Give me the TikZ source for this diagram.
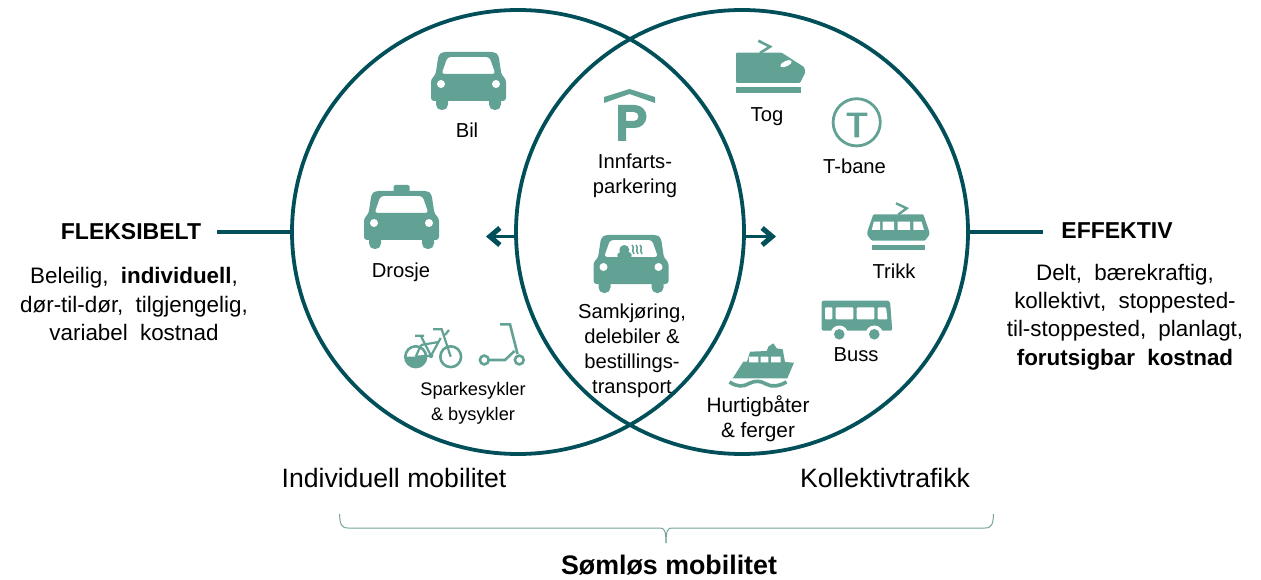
\documentclass[tikz,border=0pt]{standalone}
\usepackage{fontspec}
\setmainfont{Liberation Sans}
\usetikzlibrary{arrows.meta,shapes.geometric}
\definecolor{ringc}{HTML}{004F59}
\definecolor{iconc}{HTML}{62A295}
\definecolor{bracec}{HTML}{76A49C}
\newcommand{\ws}{\hspace{0.27em}}
\newcommand{\carbody}{%
  \fill[iconc,even odd rule,rounded corners=3pt]
    (-26,0) -- (26,0) -- (30,3) -- (33,23) -- (37.5,27) -- (37.5,49) -- (-37.5,49) -- (-37.5,27) -- (-33,23) -- (-30,3) -- cycle
    (-21,5) -- (21,5) -- (27,22) -- (-27,22) -- cycle;
  \fill[iconc,rounded corners=5.5pt] (-32.5,42) rectangle (-20.5,58) (20.5,42) rectangle (32.5,58);
  \fill[white] (-27.5,32) circle[radius=4] (27.5,32) circle[radius=4];}
\tikzset{
  ring/.style={draw=ringc,line width=3.8pt,ellipse,minimum width=452pt,minimum height=444pt,inner sep=0pt},
  stubline/.style={draw=ringc,line width=3.8pt},
  arrowline/.style={draw=ringc,line width=3.8pt,-{Straight Barb[length=10pt,width=17pt,line width=5pt]}},
  lab/.style={font=\fontsize{20.2}{25}\selectfont,align=center,inner sep=0pt,text=black},
  para/.style={font=\fontsize{22.4}{28.3}\selectfont,align=center,inner sep=0pt,text=black},
  head/.style={font=\fontsize{23}{26}\selectfont\bfseries,inner sep=0pt,anchor=base,text=black},
  big/.style={font=\fontsize{26.6}{30}\selectfont,inner sep=0pt,anchor=base,text=black},
}
\begin{document}
\begin{tikzpicture}[x=1pt,y=-1pt]
\useasboundingbox (0,0) rectangle (1261,580);
% rings
\node[ring] (L) at (518,232) {};
\node[ring] (R) at (742,232) {};
% stub lines
\coordinate (flex) at (217,232);
\coordinate (eff) at (1043,232);
\draw[stubline] (flex) -- (L.west);
\draw[stubline] (eff) -- (R.east);
% arrows
\coordinate (Lw) at (516,236.5);
\coordinate (Lt) at (486,236.5);
\coordinate (Rw) at (743,236.5);
\coordinate (Rt) at (776,236.5);
\draw[arrowline] (Lw) -- (Lt);
\draw[arrowline] (Rw) -- (Rt);
% cars
\begin{scope}[shift={(468.5,52)}]\carbody\end{scope}
\begin{scope}[shift={(401.5,191)}]\carbody
  \fill[iconc,rounded corners=1.5pt] (-8,-6) rectangle (8,1);\end{scope}
\begin{scope}[shift={(631,235)}]\carbody
  \fill[iconc] (-6.7,15) circle[radius=5];
  \fill[iconc,rounded corners=2pt] (-14,22.5) -- (-13,17) -- (0,17) -- (1,22.5) -- cycle;
  \draw[iconc,line width=1.5pt] (1,10) .. controls (4,13) and (0,15) .. (3,19)
     (5,10) .. controls (8,13) and (4,15) .. (7,19)
     (9,10) .. controls (12,13) and (8,15) .. (11,19);
\end{scope}
% parking
\fill[iconc] (604,97) -- (629.5,89) -- (655,97) -- (655,103) -- (629.5,94) -- (604,103) -- cycle;
\fill[iconc,even odd rule] (618,105) -- (635,105) arc[start angle=-90,end angle=90,radius=11.5] -- (626,128) -- (626,141) -- (618,141) -- cycle
  (626,112) -- (626,121) -- (634,121) arc[start angle=90,end angle=-90,radius=4.5] -- cycle;
% train
\fill[iconc,rounded corners=1pt] (736,52.7) -- (781.7,52.7) -- (804,67) -- (805.5,72) -- (800,83) -- (736,83) -- cycle;
\fill[iconc] (736,87.3) rectangle (800.7,93.3);
\draw[iconc,line width=2.6pt] (758.3,40.7) -- (770,46.7) -- (760,53);
\fill[white,rotate around={25:(786,63.7)}] (786,63.7) ellipse[x radius=6.3,y radius=2.6];
% T-bane
\draw[iconc,line width=2.8pt] (856.7,122.3) circle[radius=23.6];
\fill[iconc] (846.7,112.7) rectangle (867.3,116) (854.4,112.7) rectangle (859.2,137.3);
% tram
\fill[iconc,rounded corners=1pt] (873.3,214.3) -- (923.3,214.3) -- (929.3,231.7) -- (929.3,235) -- (925,240.7) -- (871.7,240.7) -- (867.3,235) -- (867.3,231.7) -- cycle;
\fill[white] (873.8,221.7) -- (880,221.7) -- (880,230) -- (871.8,230) -- cycle
  (882.7,221.7) rectangle (894,230) (897.7,221.7) rectangle (910,230)
  (913.3,221.7) -- (921.5,221.7) -- (924,230) -- (913.3,230) -- cycle;
\fill[iconc] (871.7,245) rectangle (925,250);
\draw[iconc,line width=2.4pt] (896,203.3) -- (906.7,208.3) -- (898.3,214.5);
% bus
\fill[iconc,rounded corners=2pt] (821.7,300.7) -- (890,300.7) -- (892.3,330.7) -- (821.7,330.7) -- cycle;
\fill[white,rounded corners=1pt] (825,307.3) rectangle (832.3,319.3) (835.7,307.3) rectangle (853.3,319.3)
  (856.7,307.3) rectangle (874.3,319.3) (877.7,307.3) -- (886,307.3) -- (887.5,319.3) -- (877.7,319.3) -- cycle;
\fill[white] (839.3,334.3) circle[radius=8.8] (874.3,334.3) circle[radius=8.8];
\fill[iconc] (839.3,334.3) circle[radius=5.3] (874.3,334.3) circle[radius=5.3];
% ferry
\fill[iconc] (750,351.7) -- (766.7,351) -- (768.3,346.7) -- (773.3,343.3) -- (776.7,348.3) -- (782.7,349.3) -- (785,362) -- (794,362.7) -- (787.3,378.3) -- (732.7,378.3) -- (743.3,361.7) -- (747,361.7) -- cycle;
\fill[white] (749,356.7) rectangle (758.3,362.3) (760.7,356.7) rectangle (768.3,362.3) (771,356.7) rectangle (780.7,362.3);
\draw[iconc,line width=3.6pt] (729.5,382) .. controls (737,387) and (743,387) .. (749,383.5) .. controls (755,380.5) and (760,380.5) .. (766,384) .. controls (772,387.5) and (780,386) .. (786.5,382);
% bike
\draw[iconc,line width=2.6pt] (415.7,356.7) circle[radius=10.4] (450.7,356.7) circle[radius=10.4];
\fill[iconc] (405.3,356.7) arc[start angle=180,end angle=0,radius=10.4] -- cycle;
\draw[iconc,line width=2.2pt] (415,335.7) -- (424,335.7) (420.7,335.7) -- (431,355.7) -- (440.7,338) (433,329.3) -- (441.7,329.3) -- (450.7,356.7) (415.7,356.7) -- (431,355.7) (421,345) -- (415.7,356.7) (421,345) -- (438.5,342) (445,335) -- (449,330);
\fill[iconc] (431,355.7) circle[radius=2.4];
% scooter
\draw[iconc,line width=2.6pt] (484.3,360) circle[radius=4.4] (519.3,360) circle[radius=4.4];
\draw[iconc,line width=2.6pt] (500,324.3) -- (510,324.3) -- (517.5,354) (489,360) -- (505,360) -- (514.5,351);
% labels
\node[lab,anchor=base] (bil) at (467,137.5) {Bil};
\node[lab] (innf) at (635,175.5) {Innfarts-\\parkering};
\node[lab,anchor=base] (dros) at (401,277) {Drosje};
\node[lab] (samk) at (632,350.5) {Samkjøring,\\delebiler \&\\bestillings-\\transport};
\node[lab,font=\fontsize{18.2}{25}\selectfont] (spark) at (473,403.5) {Sparkesykler\\\& bysykler};
\node[lab,anchor=base] (tog) at (767,121.7) {Tog};
\node[lab,anchor=base] (tban) at (854.5,174) {T-bane};
\node[lab,anchor=base] (trik) at (894,278) {Trikk};
\node[lab,anchor=base] (buss) at (856,361.7) {Buss};
\node[lab,font=\fontsize{20.8}{25}\selectfont] (hurt) at (758,419) {Hurtigbåter\\\& ferger};
\node[head] (fleks) at (131,240) {FLEKSIBELT};
\node[head] (effk) at (1117,239) {EFFEKTIV};
\node[para] (fp) at (134,304) {Beleilig,\ws{} \textbf{individuell},\\dør-til-dør,\ws{} tilgjengelig,\\variabel\ws{} kostnad};
\node[para] (ep) at (1125,317) {Delt,\ws{} bærekraftig,\\kollektivt,\ws{} stoppested-\\til-stoppested,\ws{} planlagt,\\\textbf{forutsigbar\ws{} kostnad}};
\node[big] (ind) at (394,487) {Individuell mobilitet};
\node[big] (kol) at (885,487) {Kollektivtrafikk};
\node[big,font=\fontsize{26.8}{30}\selectfont\bfseries] (som) at (669,574) {Sømløs mobilitet};
% brace
\coordinate (bl) at (339.5,514);
\coordinate (br) at (993.5,514);
\coordinate (bm) at (666,543);
\draw[bracec,line width=1pt] (bl) .. controls (340,524) and (341,528) .. (348,528) -- (660,528) .. controls (664,528) and (666,530) .. (bm);
\draw[bracec,line width=1pt] (br) .. controls (993,524) and (992,528) .. (985,528) -- (672,528) .. controls (668,528) and (666,530) .. (bm);
\end{tikzpicture}
\end{document}
